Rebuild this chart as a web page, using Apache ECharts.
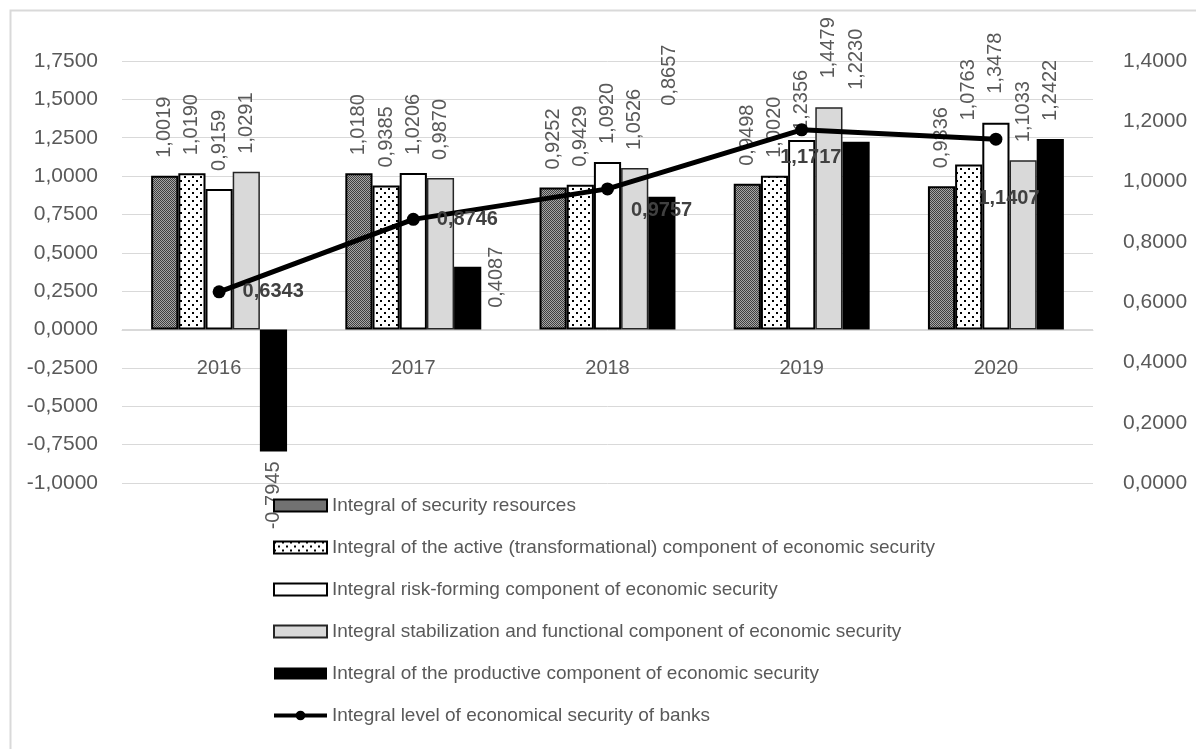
<!DOCTYPE html>
<html>
<head>
<meta charset="utf-8">
<script src="https://cdn.jsdelivr.net/npm/echarts@6/dist/echarts.min.js"></script>
<style>
  html, body { margin: 0; padding: 0; background: #fff; }
  #main { width: 1196px; height: 749px; }
</style>
</head>
<body>
<div id="main"></div>
<script>
// values
var years = ['2016', '2017', '2018', '2019', '2020'];
var resources = [1.0019, 1.0180, 0.9252, 0.9498, 0.9336];
var activeComp = [1.0190, 0.9385, 0.9429, 1.0020, 1.0763];
var riskComp = [0.9159, 1.0206, 1.0920, 1.2356, 1.3478];
var stabComp = [1.0291, 0.9870, 1.0526, 1.4479, 1.1033];
var productiveComp = [-0.7945, 0.4087, 0.8657, 1.2230, 1.2422];
var integralLevel = [0.6343, 0.8746, 0.9757, 1.1717, 1.1407];
var leftTicks = [-1, -0.75, -0.5, -0.25, 0, 0.25, 0.5, 0.75, 1, 1.25, 1.5, 1.75];
var rightTicks = [0, 0.2, 0.4, 0.6, 0.8, 1.0, 1.2, 1.4];

var names = [
  'Integral of security resources',
  'Integral of the active (transformational) component of economic security',
  'Integral risk-forming component of economic security',
  'Integral stabilization and functional component of economic security',
  'Integral of the productive component of economic security',
  'Integral level of economical security of banks'
];

var FONT = 'Liberation Sans';
function fmt(v) { return v.toFixed(4).replace('.', ','); }

// fill patterns
function makePattern(size, bg, dots) {
  var c = document.createElement('canvas');
  c.width = size; c.height = size;
  var ctx = c.getContext('2d');
  ctx.fillStyle = bg;
  ctx.fillRect(0, 0, size, size);
  dots.forEach(function (d) {
    ctx.fillStyle = d[3];
    ctx.fillRect(d[0], d[1], d[2], d[2]);
  });
  return { image: c, repeat: 'repeat' };
}
var hatch = makePattern(2, '#a6a6a6', [[0, 0, 1, '#3f3f3f'], [1, 1, 1, '#3f3f3f']]);
var dotted = makePattern(8, '#ffffff', [[0, 0, 2, '#000'], [4, 4, 2, '#000']]);

// Excel placed some labels oddly; nudge them (screen dx, dy)
function shift(dx, dy) { return { offset: [-dy, dx] }; } // label is rotated 90deg
var labelFix = {
  4: { 0: { position: 'bottom', align: 'right', distance: 10 }, 1: shift(29, 59), 2: shift(8, -73), 3: shift(0, -34) },
  2: { 3: shift(0, 9), 4: shift(0, -11) },
  3: { 3: shift(0, -11) },
  1: { 4: shift(0, -26) }
};
var lineFix = { 2: [0, 22], 3: [-45, 28], 4: [-41, 59] };

function barData(values, si) {
  return values.map(function (v, i) {
    var fix = labelFix[si] && labelFix[si][i];
    return fix ? { value: v, label: fix } : v;
  });
}

var barLabel = {
  show: true, position: 'top', rotate: 90, align: 'left', verticalAlign: 'middle',
  distance: 18, color: '#595959', fontSize: 20, fontFamily: FONT,
  formatter: function (p) { return fmt(p.value); }
};

var barStyles = [
  { color: hatch, borderColor: '#000', borderWidth: 2 },
  { color: dotted, borderColor: '#000', borderWidth: 2 },
  { color: '#ffffff', borderColor: '#000', borderWidth: 2 },
  { color: '#d9d9d9', borderColor: '#262626', borderWidth: 1.5 },
  { color: '#000000', borderColor: '#000', borderWidth: 0 }
];
var barValues = [resources, activeComp, riskComp, stabComp, productiveComp];

var series = barValues.map(function (vals, si) {
  return {
    name: names[si], type: 'bar', yAxisIndex: 0,
    barGap: 0, barCategoryGap: '30%',
    itemStyle: barStyles[si],
    label: barLabel,
    data: barData(vals, si)
  };
});

series.push({
  name: names[5], type: 'line', yAxisIndex: 1, z: 5,
  symbol: 'circle', symbolSize: 13,
  lineStyle: { color: '#000', width: 5 },
  itemStyle: { color: '#000' },
  label: {
    show: true, position: 'right', distance: 17, color: '#404040',
    fontSize: 20, fontWeight: 'bold', fontFamily: FONT,
    formatter: function (p) { return fmt(p.value); }
  },
  data: integralLevel.map(function (v, i) {
    return lineFix[i] ? { value: v, label: { offset: lineFix[i] } } : v;
  })
});

var legendData = names.map(function (n, i) {
  if (i < 5) return { name: n, icon: 'rect' };
  return { name: n, lineStyle: { width: 4 } };
});

var chart = echarts.init(document.getElementById('main'));
chart.setOption({
  animation: false,
  backgroundColor: '#fff',
  textStyle: { fontFamily: FONT },
  graphic: [{
    type: 'rect', left: 8, top: 8, z: -1,
    shape: { width: 1300, height: 900 },
    style: { fill: 'none', stroke: '#d9d9d9', lineWidth: 2 }
  }],
  grid: { left: 122, right: 103, top: 61, bottom: 266 },
  legend: {
    orient: 'vertical', left: 267, top: 491,
    itemWidth: 53, itemHeight: 12, itemGap: 23,
    textStyle: { color: '#595959', fontSize: 19, fontFamily: FONT },
    data: legendData
  },
  xAxis: {
    type: 'category', data: years, position: 'bottom',
    offset: -153,  // axis sits on the zero line of the left axis
    axisLine: { onZero: false, lineStyle: { color: '#d9d9d9', width: 1 } },
    axisTick: { show: false },
    axisLabel: { color: '#595959', fontSize: 20, margin: 28, fontFamily: FONT }
  },
  yAxis: [{
    type: 'value', min: leftTicks[0], max: leftTicks[leftTicks.length - 1],
    interval: leftTicks[1] - leftTicks[0],
    axisLine: { show: false }, axisTick: { show: false },
    splitLine: { lineStyle: { color: '#d9d9d9', width: 1 } },
    axisLabel: { color: '#595959', fontSize: 21, margin: 24, fontFamily: FONT, formatter: fmt }
  }, {
    type: 'value', min: rightTicks[0], max: rightTicks[rightTicks.length - 1],
    interval: rightTicks[1] - rightTicks[0],
    axisLine: { show: false }, axisTick: { show: false },
    splitLine: { show: false },
    axisLabel: { color: '#595959', fontSize: 21, margin: 30, fontFamily: FONT, formatter: fmt }
  }],
  series: series
});
</script>
</body>
</html>
